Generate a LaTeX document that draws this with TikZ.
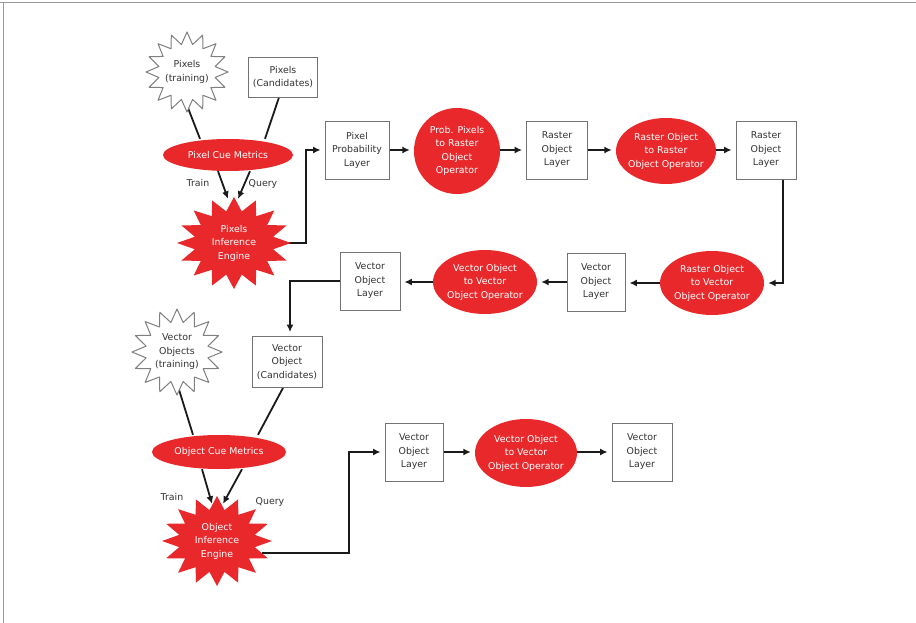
\documentclass[tikz,border=0pt]{standalone}
\usepackage{fontspec}
\setmainfont{DejaVu Sans}
\usetikzlibrary{shapes.geometric,arrows.meta,calc}
\pgfdeclarelayer{back}\pgfdeclarelayer{bg}\pgfsetlayers{back,bg,main}
\definecolor{redfill}{HTML}{E8282B}
\definecolor{ink}{HTML}{1A1A1A}
\newcommand\burst[5]{% cx cy rx ry style
  \path[#5] ({#1+#3},{#2}) \foreach \i in {1,...,31} {-- ({#1+#3*(1-0.3*mod(\i,2))*cos(\i*180/16)},{#2+#4*(1-0.3*mod(\i,2))*sin(\i*180/16)})} -- cycle;}
\begin{document}
\begin{tikzpicture}[x=1pt,y=-1pt,
  every node/.style={font=\fontsize{9.4}{13.5}\selectfont, align=center, inner sep=0pt},
  box/.style={draw=black!55, line width=0.8pt, fill=white, text=black!80},
  redell/.style={ellipse, fill=redfill},
  wtxt/.style={text=white, font=\fontsize{9.4}{13.5}\selectfont, align=center},
  btxt/.style={text=black!80},
  lbl/.style={text=black!80},
  whitestar/.style={fill=white, draw=black!50, line width=1pt, line join=round},
  redstar/.style={fill=redfill},
  conn/.style={line width=1.8pt, draw=ink},
  arr/.style={conn, -{Latex[length=7.5pt,width=7pt]}, shorten >=4pt},
  arrs/.style={conn, -{Latex[length=7.5pt,width=7pt]}},
]
\useasboundingbox (0,0) rectangle (916,623);
\begin{pgfonlayer}{back}
\fill[white] (0,0) rectangle (916,623);
\draw[black!40, line width=1.2pt] (0,2.5) -- (916,2.5);
\draw[black!40, line width=1pt] (3,2.5) -- (3,623);
\end{pgfonlayer}

% stars (drawn shapes)
\burst{187}{72}{41}{40}{whitestar}
\burst{234}{243}{57}{46}{redstar}
\burst{177}{352}{45}{43}{whitestar}
\burst{217}{541}{55}{45}{redstar}

% star hubs
\node[btxt, minimum width=82pt, minimum height=80pt] (pt) at (187,72) {Pixels\\(training)};
\node[wtxt, minimum width=114pt, minimum height=92pt] (pie) at (234,243) {Pixels\\Inference\\Engine};
\node[btxt, minimum width=90pt, minimum height=86pt] (vot) at (177,352) {Vector\\Objects\\(training)};
\node[wtxt, minimum width=110pt, minimum height=90pt] (oie) at (217,541) {Object\\Inference\\Engine};

% boxes
\node[box, minimum width=69pt, minimum height=40pt] (pc) at (283,77) {Pixels\\(Candidates)};
\node[box, minimum width=64pt, minimum height=58pt] (ppl) at (357,150) {Pixel\\Probability\\Layer};
\node[box, minimum width=61pt, minimum height=58pt] (rol1) at (557,150) {Raster\\Object\\Layer};
\node[box, minimum width=60pt, minimum height=58pt] (rol2) at (766,150) {Raster\\Object\\Layer};
\node[box, minimum width=58pt, minimum height=58pt] (vol1) at (596,282) {Vector\\Object\\Layer};
\node[box, minimum width=60pt, minimum height=58pt] (vol2) at (370,281) {Vector\\Object\\Layer};
\node[box, minimum width=70pt, minimum height=51pt] (voc) at (287,362) {Vector\\Object\\(Candidates)};
\node[box, minimum width=58pt, minimum height=58pt] (vol3) at (414,452) {Vector\\Object\\Layer};
\node[box, minimum width=60pt, minimum height=58pt] (vol4) at (642,452) {Vector\\Object\\Layer};

% red ellipses
\node[redell, minimum width=130pt, minimum height=32pt, label={[wtxt]center:Pixel Cue Metrics}] (pcm) at (228,155) {};
\node[redell, minimum width=86pt, minimum height=86pt, label={[wtxt]center:Prob. Pixels\\to Raster\\Object\\Operator}] (ppo) at (457,151) {};
\node[redell, minimum width=100pt, minimum height=66pt, label={[wtxt]center:Raster Object\\to Raster\\Object Operator}] (rro) at (666,151) {};
\node[redell, minimum width=104pt, minimum height=64pt, label={[wtxt]center:Raster Object\\to Vector\\Object Operator}] (rvo) at (712,283) {};
\node[redell, minimum width=104pt, minimum height=64pt, label={[wtxt]center:Vector Object\\to Vector\\Object Operator}] (vvo1) at (485,282) {};
\node[redell, minimum width=134pt, minimum height=34pt, label={[wtxt]center:Object Cue Metrics}] (ocm) at (219,452) {};
\node[redell, minimum width=102pt, minimum height=68pt, label={[wtxt]center:Vector Object\\to Vector\\Object Operator}] (vvo2) at (526,453) {};

% labels
\node[lbl] (tr1) at (198,183) {Train};
\node[lbl] (qu1) at (263,184) {Query};
\node[lbl] (tr2) at (172,497) {Train};
\node[lbl] (qu2) at (270,502) {Query};

\begin{pgfonlayer}{bg}
  % pixel branch
  \draw[conn] ([xshift=-2pt,yshift=12pt]pt.south) -- ([xshift=-28pt]pcm.north);
  \draw[conn] ([xshift=-4pt]pc.south) -- ([xshift=37pt]pcm.north);
  \draw[arrs] ([xshift=-10pt]pcm.south) -- ([xshift=-6pt,yshift=-2pt]pie.north);
  \draw[arrs] ([xshift=22pt]pcm.south) -- ([xshift=4pt,yshift=-2pt]pie.north);
  \draw[arr] ([xshift=-10pt]pie.east) -- ++(25,0) |- (ppl.west);
  % top row
  \draw[arr] (ppl.east) -- (ppl.east -| ppo.west);
  \draw[arr] (ppo.east |- rol1.east) -- (rol1.west);
  \draw[arr] (rol1.east) -- (rol1.east -| rro.west);
  \draw[arr] (rro.east |- rol2.west) -- (rol2.west);
  \draw[arr] ([xshift=17pt]rol2.south) |- (rvo.east);
  % second row
  \draw[arr] (rvo.west) -- (rvo.west -| vol1.east);
  \draw[arr] (vol1.west) -- (vol1.west -| vvo1.east);
  \draw[arr] (vvo1.west) -- (vvo1.west -| vol2.east);
  \draw[arr] (vol2.west) -| ([xshift=3pt]voc.north);
  % object branch
  \draw[conn] ([yshift=12pt]vot.south) -- ([xshift=-26pt]ocm.north);
  \draw[conn] ([xshift=-4pt]voc.south) -- ([xshift=39pt]ocm.north);
  \draw[arrs] ([xshift=-17pt]ocm.south) -- ([xshift=-5pt,yshift=-8pt]oie.north);
  \draw[arrs] ([xshift=23pt]ocm.south) -- ([xshift=6pt,yshift=-8pt]oie.north);
  \draw[arr] ([xshift=-10pt,yshift=-12pt]oie.east) -- ++(87,0) |- (vol3.west);
  % bottom row
  \draw[arr] (vol3.east) -- (vol3.east -| vvo2.west);
  \draw[arr] (vvo2.east |- vol4.west) -- (vol4.west);
\end{pgfonlayer}
\end{tikzpicture}
\end{document}
